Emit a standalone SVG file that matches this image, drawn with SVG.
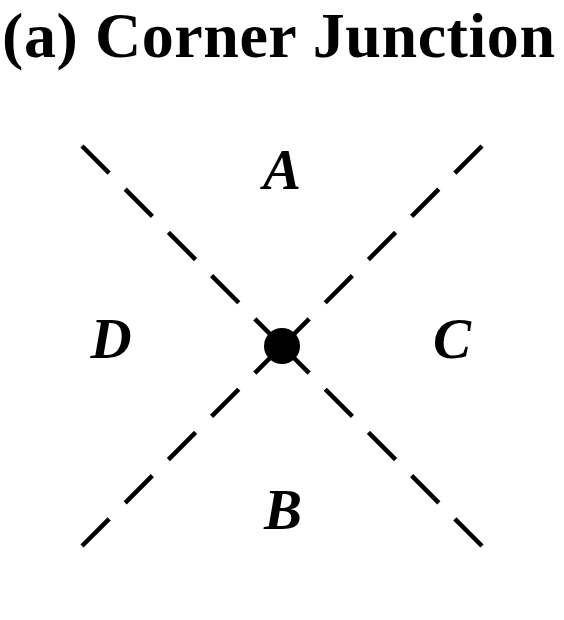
<svg xmlns="http://www.w3.org/2000/svg" width="564" height="620" viewBox="0 0 564 620">
<style>
.title{font-family:"Liberation Serif","DejaVu Serif",serif;font-weight:bold;font-size:64px;fill:#000}
.lbl{font-family:"Liberation Serif","DejaVu Serif",serif;font-weight:bold;font-style:italic;font-size:57px;fill:#000;text-anchor:middle}
.dash{stroke:#000;stroke-width:4.5;fill:none;stroke-dasharray:38.4 22.7;stroke-linecap:butt}
</style>
<rect width="564" height="620" fill="#fff"/>
<text class="title" x="2" y="57" textLength="553" lengthAdjust="spacing">(a) Corner Junction</text>
<g id="connectors">
<path class="dash" d="M82,146 L282,346"/>
<path class="dash" d="M482,546 L282,346"/>
<path class="dash" d="M482,146 L282,346"/>
<path class="dash" d="M82,546 L282,346"/>
</g>
<g id="junction"><circle cx="282" cy="346" r="18" fill="#000"/></g>
<g id="region-A"><text class="lbl" x="282" y="189">A</text></g>
<g id="region-B"><text class="lbl" x="283" y="529">B</text></g>
<g id="region-C"><text class="lbl" x="452" y="358">C</text></g>
<g id="region-D"><text class="lbl" x="111" y="358">D</text></g>
</svg>
